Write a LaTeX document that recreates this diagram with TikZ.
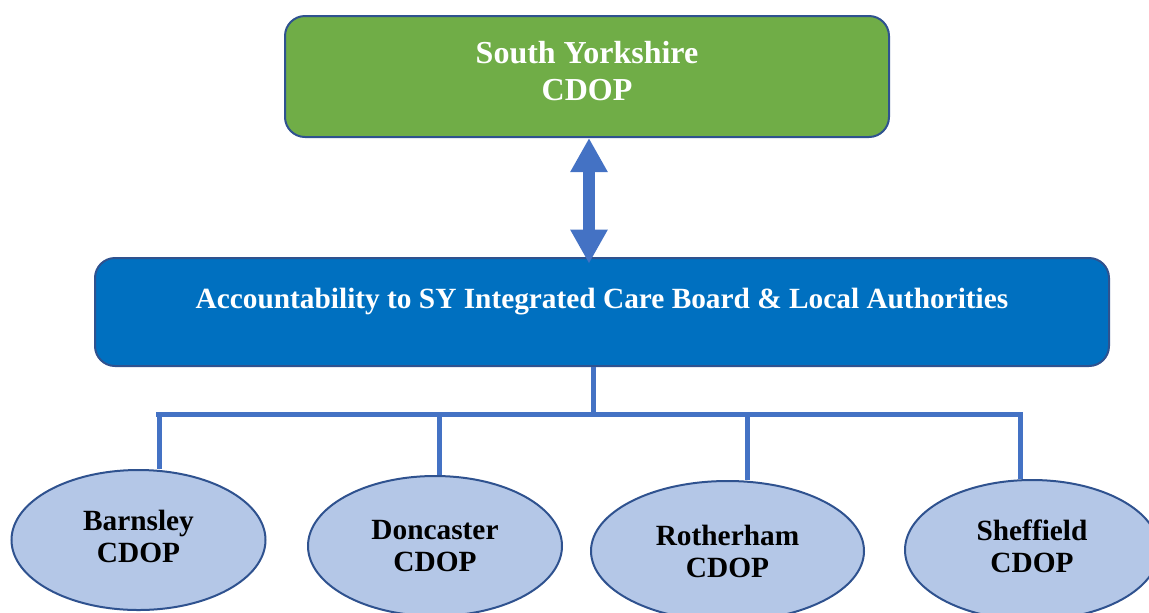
\documentclass[tikz,border=0pt]{standalone}
\usepackage{fontspec}
\setmainfont{Liberation Serif}
\usetikzlibrary{arrows.meta,positioning,shapes}
\definecolor{boxgreen}{HTML}{70AD47}
\definecolor{boxblue}{HTML}{0070C0}
\definecolor{edgeblue}{HTML}{2F528F}
\definecolor{linkblue}{HTML}{4472C4}
\definecolor{ovalblue}{HTML}{B4C7E7}

\begin{document}
\begin{tikzpicture}[
    x=0.75pt, y=-0.75pt,
    every node/.style={
        draw=edgeblue, line width=1.5pt,
        inner sep=0pt,
        align=center,
        font=\bfseries
    },
    topbox/.style={
        rectangle, rounded corners=15pt,
        fill=boxgreen, text=white,
        minimum width=453pt, minimum height=90.75pt,
        text depth=9pt,
        font=\fontsize{24}{27.6}\selectfont\bfseries
    },
    midbox/.style={
        rectangle, rounded corners=15pt,
        fill=boxblue, text=white,
        minimum width=760.5pt, minimum height=81pt,
        text height=15pt, text depth=21pt,
        font=\fontsize{22}{26}\selectfont\bfseries
    },
    panel/.style={
        ellipse, fill=ovalblue, text=black,
        minimum width=190.5pt, minimum height=105pt,
        font=\fontsize{22}{24}\selectfont\bfseries
    },
    link/.style={draw=linkblue, line width=3.75pt},
    dblarrow/.style={
        draw=linkblue, line width=9pt,
        {Triangle[width=26.25pt,length=25.5pt]}-{Triangle[width=26.25pt,length=25.5pt]}
    }
]
\useasboundingbox (0,0) rectangle (1149,612);
\clip (0,0) rectangle (1149,612);

\node[topbox] (sy) at (587,76.5) {South Yorkshire\\CDOP};
\node[midbox] (acc) at (602,312) {Accountability to SY Integrated Care Board \& Local Authorities};

\coordinate (ax) at (589,0);
\draw[dblarrow] (sy.south -| ax) -- ([yshift=-5pt]acc.north -| ax);

\coordinate (hub) at (593,414);
\coordinate (dropA) at (159,414);
\coordinate (dropB) at (439,414);
\coordinate (dropC) at (747,414);
\coordinate (dropD) at (1020,414);

\draw[link] (acc.south -| hub) -- (hub);
\draw[link] ([xshift=-1.9pt]dropA) -- ([xshift=1.9pt]dropD);

\node[panel, text depth=6pt] (barnsley) at (138.5,540) {Barnsley\\CDOP};
\node[panel] (doncaster) at (435,546) {Doncaster\\CDOP};
\node[panel, minimum width=204.75pt] (rotherham) at (727.5,551) {Rotherham\\CDOP};
\node[panel, text depth=6pt] (sheffield) at (1032,550) {Sheffield\\CDOP};

\draw[link] (dropA) -- (barnsley.north -| dropA);
\draw[link] (dropB) -- (doncaster.north -| dropB);
\draw[link] (dropC) -- (rotherham.north -| dropC);
\draw[link] (dropD) -- (sheffield.north -| dropD);
\end{tikzpicture}
\end{document}
